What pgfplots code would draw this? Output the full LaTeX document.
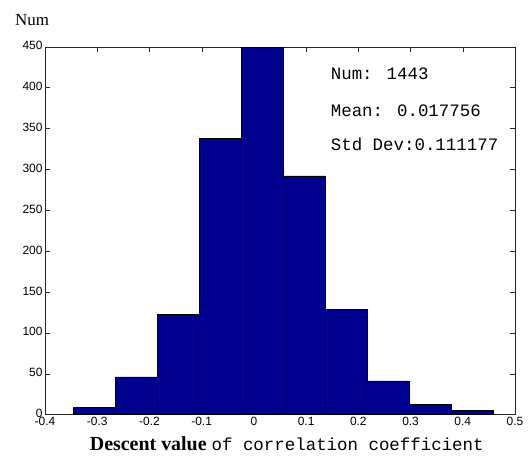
\documentclass[border=0pt]{standalone}
\usepackage{fontspec}
\setmainfont{Liberation Sans}
\newfontfamily\timesf{Liberation Serif}
\newfontfamily\monof{Liberation Mono}
\usepackage{pgfplots}
\pgfplotsset{compat=1.18}
\usetikzlibrary{calc}
\definecolor{matnavy}{RGB}{0,0,143}

\begin{document}
\begin{tikzpicture}
\begin{axis}[
  name=ax,
  scale only axis,
  width=470bp, height=367.8bp,
  xmin=-0.4, xmax=0.5, ymin=0, ymax=450,
  xtick={-0.4,-0.3,-0.2,-0.1,0,0.1,0.2,0.3,0.4,0.5},
  xticklabels={-0.4,-0.3,-0.2,-0.1,0,0.1,0.2,0.3,0.4,0.5},
  ytick={0,50,100,150,200,250,300,350,400,450},
  tick align=inside,
  major tick length=5bp,
  axis line style={black!85},
  tick style={black!85},
  /pgf/number format/assume math mode=true,
  tick label style={font=\fontsize{12}{13}\selectfont},
  xticklabel style={yshift=1bp},
  yticklabel style={xshift=1bp, yshift=1bp},
  clip=false,
]
\addplot[ybar interval, fill=matnavy, draw=black, line width=0.6bp] coordinates {
  (-0.3450,9) (-0.2647,46) (-0.1844,122) (-0.1041,338) (-0.0238,449)
  (0.0565,292) (0.1368,129) (0.2171,41) (0.2974,12) (0.3777,5) (0.4580,5)
};
\node[anchor=base west, inner sep=0, font=\monof\fontsize{17.5}{19}\selectfont] at (axis cs:0.147,409.3) {Num: 1443};
\node[anchor=base west, inner sep=0, font=\monof\fontsize{17.5}{19}\selectfont] at (axis cs:0.147,365.2) {Mean: 0.017756};
\node[anchor=base west, inner sep=0, font=\monof\fontsize{17.5}{19}\selectfont] at (axis cs:0.147,322.4) {Std Dev:0.111177};
\end{axis}
\node[anchor=base west, inner sep=0, font=\timesf\fontsize{17}{19}\selectfont] at ($(ax.north west)+(-30bp,20.7bp)$) {Num};
\node[anchor=base west, inner sep=0] at ($(ax.south west)+(44.7bp,-36bp)$)
  {{\timesf\bfseries\fontsize{20}{22}\selectfont Descent value }{\monof\fontsize{17.5}{19}\selectfont of correlation coefficient}};
\pgfresetboundingbox
\path ($(ax.south west)+(-45bp,-40.5bp)$) rectangle ($(ax.north east)+(15bp,46.7bp)$);
\end{tikzpicture}
\end{document}
